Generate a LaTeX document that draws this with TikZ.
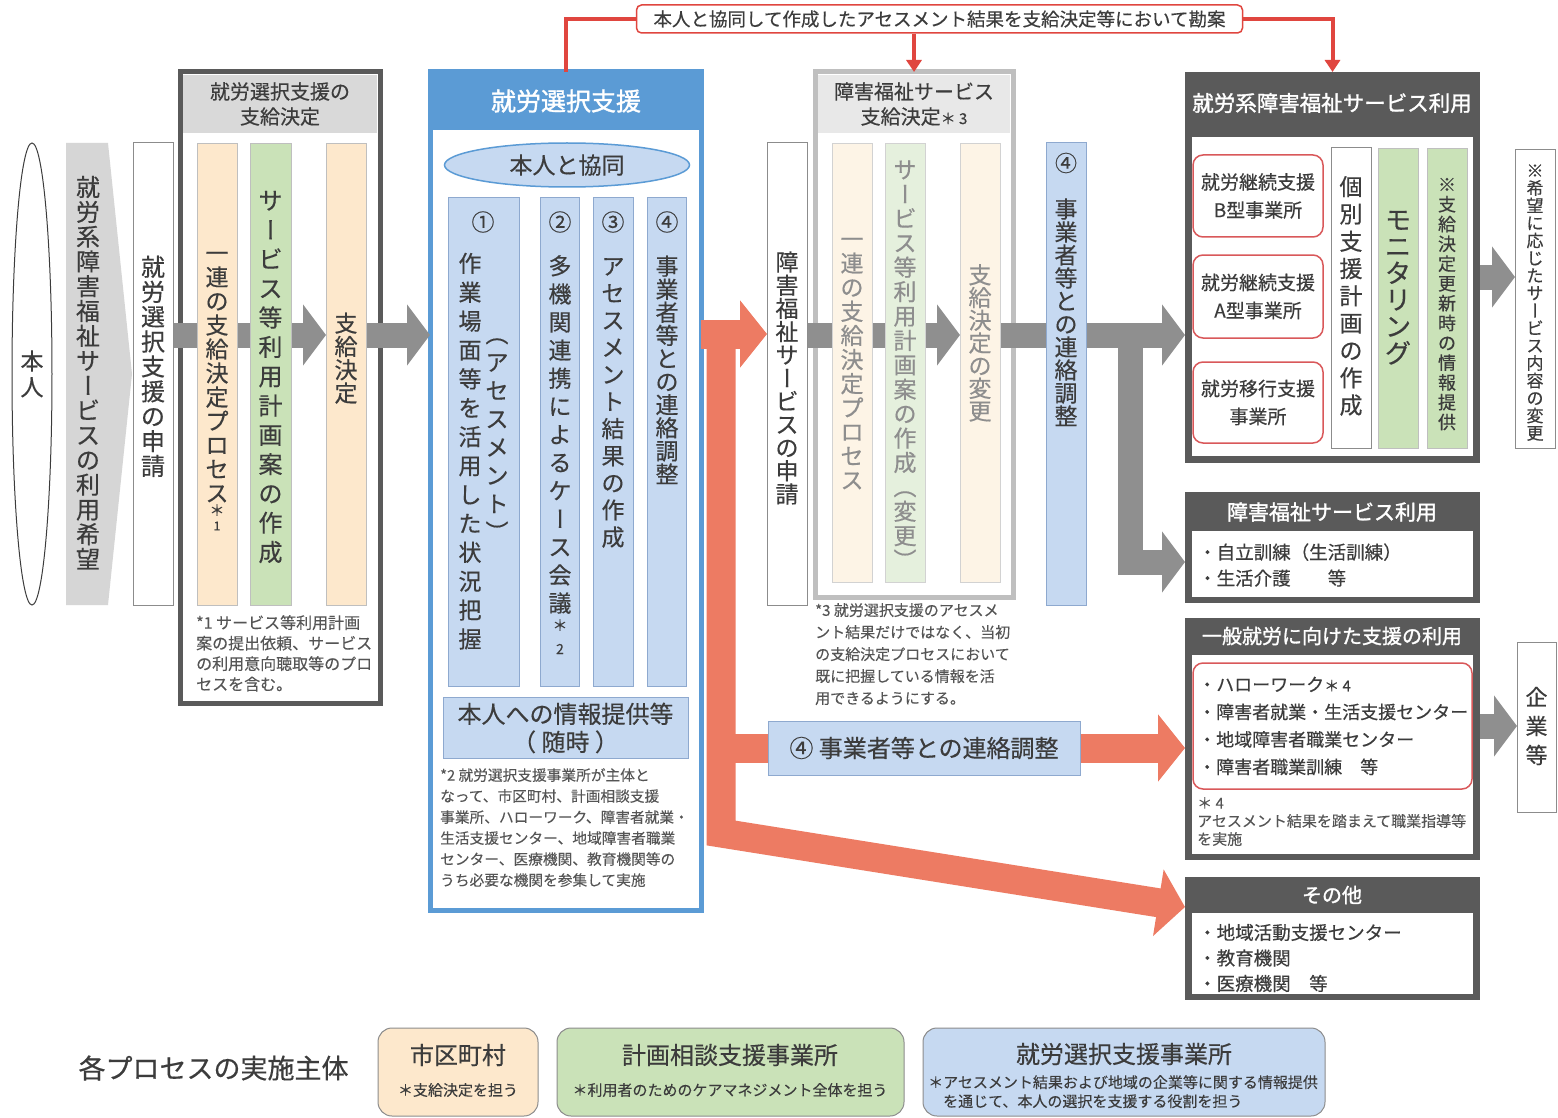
\documentclass[tikz,border=0pt]{standalone}
\usepackage{fontspec}
\setmainfont{Noto Sans CJK JP}[FakeBold=0.4]
\newfontfamily\hb{Noto Sans CJK JP}[FakeBold=1.4]
\newfontfamily\nf{Noto Sans CJK JP}[FakeBold=0.15]
\usepackage{graphicx}
\usetikzlibrary{arrows.meta,shapes.geometric}

\definecolor{dkg}{HTML}{5A5A5A}
\definecolor{hdrg}{HTML}{D9D9D9}
\definecolor{lgb}{HTML}{BFBFBF}
\definecolor{lgh}{HTML}{E8E8E8}
\definecolor{peach}{HTML}{FDE8CC}
\definecolor{grn}{HTML}{CAE2B8}
\definecolor{ppeach}{HTML}{FDF4E6}
\definecolor{pgrn}{HTML}{E5F0DD}
\definecolor{lblue}{HTML}{C6D9F1}
\definecolor{lbb}{HTML}{8EA9CF}
\definecolor{blu}{HTML}{5B9BD5}
\definecolor{salm}{HTML}{ED7B63}
\definecolor{redc}{HTML}{E0463F}
\definecolor{rbox}{HTML}{D9585A}
\definecolor{barg}{HTML}{8F8F8F}
\definecolor{chev}{HTML}{D6D6D6}
\definecolor{txt}{HTML}{3C3C3C}
\definecolor{ltxt}{HTML}{8E8E8E}
\definecolor{ntxt}{HTML}{555555}
\definecolor{bordg}{HTML}{8C8C8C}

\pgfdeclarelayer{back}
\pgfdeclarelayer{mid}
\pgfsetlayers{back,mid,main}

\newcommand\fsz[2]{\fontsize{#1}{#2}\selectfont}

\ExplSyntaxOn
\cs_new:Npn \vchar #1
  {
    \str_case:nnF {#1}
      {
        {ー}{\rotatebox[origin=c]{-90}{\rule[-0.12em]{0pt}{1em}ー}}
        {（}{︵}
        {）}{︶}
      }
      {#1}
  }
\NewDocumentCommand \V { O{1.1em} m }
  {
    \vbox
      {
        \baselineskip=#1\relax
        \lineskiplimit=-\maxdimen
        \lineskip=0pt
        \tl_map_inline:nn {#2} { \hbox to 1em {\hss \vchar{##1} \hss} }
      }
  }
\ExplSyntaxOff

% box: [opts]{name}{x1}{y1}{x2}{y2}{text}
\newcommand\Rbox[7][]{%
  \pgfmathsetmacro\rw{#5-#3}%
  \pgfmathsetmacro\rh{#6-#4}%
  \node[anchor=north west, minimum width=\rw pt, minimum height=\rh pt,
        inner sep=0pt, outer sep=0pt, #1] (#2) at (#3,#4) {#7};}
% vertical text: [opts]{name}{x}{y of last char centre}{font size}{pitch}{text}
\newcommand\VT[7][]{%
  \pgfmathsetmacro\vy{#4+0.38*#5}%
  \node[anchor=base, inner sep=0pt, outer sep=0pt, #1] (#2) at (#3,\vy)
       {\fsz{#5}{#5}\V[#6pt]{#7}};}

\tikzset{
  every node/.style={text=txt},
  wbox/.style={draw=bordg, fill=white, line width=1pt},
  pch/.style={draw=lgb, fill=peach, line width=0.8pt},
  gcol/.style={draw=lgb, fill=grn, line width=0.8pt},
  ppch/.style={draw=lgb!70, fill=ppeach, line width=0.8pt},
  pgcol/.style={draw=lgb!70, fill=pgrn, line width=0.8pt},
  lbcol/.style={draw=lbb, fill=lblue, line width=1pt},
  rbx/.style={draw=rbox, fill=white, line width=1.5pt, rounded corners=10pt},
  gbar/.style={draw=barg, line width=25pt},
  garr/.style={gbar, -{Triangle[length=23pt, width=60pt]}},
  sarr/.style={draw=salm, line width=29pt, line join=miter, -{Triangle[length=27pt, width=66pt]}},
  redl/.style={draw=redc, line width=4pt},
  rarr/.style={redl, -{Triangle[length=12pt, width=15pt]}},
  note/.style={anchor=north west, align=left, inner sep=0pt, text=ntxt},
  hdr/.style={text=white},
  legbox/.style={draw=bordg, line width=1pt, rounded corners=14pt},
}

\begin{document}
\begin{tikzpicture}[x=1pt,y=-1pt]
\useasboundingbox (0,0) rectangle (1558,1118);

% ---------------- back layer: group frames ----------------
\begin{pgfonlayer}{back}
  \fill[white] (0,0) rectangle (1558,1118);
  \Rbox[draw=dkg, line width=5pt, fill=white]{grp1}{180}{72}{380}{703}{}
  \Rbox[fill=hdrg]{hd1}{183}{75}{377}{133}{}
  \Rbox[draw=blu, line width=5pt, fill=white]{grp2}{430}{72}{701}{910}{}
  \Rbox[fill=blu]{hd2}{430}{72}{701}{130}{}
  \Rbox[draw=lgb, line width=5pt, fill=white]{grp3}{815}{72}{1013}{597}{}
  \Rbox[fill=lgh]{hd3}{818}{75}{1010}{133}{}
  \Rbox[fill=dkg]{grp4}{1185}{72}{1480}{463}{}
  \Rbox[fill=white]{in4}{1192}{137}{1473}{456}{}
  \Rbox[fill=dkg]{grp5}{1185}{492}{1480}{603}{}
  \Rbox[fill=white]{in5}{1192}{531}{1473}{597}{}
  \Rbox[fill=dkg]{grp6}{1185}{618}{1480}{860}{}
  \Rbox[fill=white]{in6}{1192}{655}{1473}{854}{}
  \Rbox[fill=dkg]{grp7}{1185}{877}{1480}{1000}{}
  \Rbox[fill=white]{in7}{1192}{913}{1473}{994}{}
\end{pgfonlayer}

% ---------------- left part ----------------
\node[ellipse, draw=txt, line width=1pt, minimum width=40pt, minimum height=462pt, inner sep=0pt] (honnin) at (32,374) {};
\VT{honnint}{32}{387}{23}{26}{本人}
\fill[chev] (66,143) -- (108,143) -- (132,374) -- (108,605) -- (66,605) -- cycle;
\VT{chevt}{88}{559}{24}{24.8}{就労系障害福祉サービスの利用希望}
\Rbox[wbox]{app1}{133}{143}{173}{605}{}
\VT{app1t}{153}{466}{24}{24.9}{就労選択支援の申請}

% group 1
\node[font=\fsz{20}{25}, align=center] (hd1t) at (280,104) {就労選択支援の\\支給決定};
\Rbox[pch]{c11}{197}{143}{237}{605}{}
\VT{c11t}{217}{493}{23}{24}{一連の支給決定プロセス}
\node[inner sep=0pt] (c11s) at (217,510) {\fsz{15}{15}＊};
\node[inner sep=0pt] (c11n) at (217,526) {\fsz{12}{12}1};
\Rbox[gcol]{c12}{250}{143}{291}{605}{}
\VT{c12t}{270.5}{552}{24}{29.3}{サービス等利用計画案の作成}
\Rbox[pch]{c13}{326}{143}{366}{605}{}
\VT{c13t}{346}{393}{23}{23.3}{支給決定}
\node[note, font=\nf\fsz{16}{20.5}] (n1) at (196,615) {*1 サービス等利用計画\\案の提出依頼、サービス\\の利用意向聴取等のプロ\\セスを含む。};

% group 2 (blue)
\node[hdr] (hd2t) at (566,101) {\hb\fsz{25}{25}就労選択支援};
\node[ellipse, draw=blu, fill=lblue, line width=1.5pt, minimum width=245pt, minimum height=44pt, inner sep=0pt] (kyodo) at (567,165) {\fsz{23}{23}本人と協同};
\Rbox[lbcol]{s1}{448}{198}{519}{686}{}
\Rbox[lbcol]{s2}{540}{198}{579}{686}{}
\Rbox[lbcol]{s3}{593}{198}{633}{686}{}
\Rbox[lbcol]{s4}{647}{198}{686}{686}{}
\node (s1n) at (483,222) {\fsz{23}{23}①};
\node (s2n) at (560,222) {\fsz{23}{23}②};
\node (s3n) at (613,222) {\fsz{23}{23}③};
\node (s4n) at (667,222) {\fsz{23}{23}④};
\VT{s1a}{470}{639}{23}{28.9}{作業場面等を活用した状況把握}
\VT{s1b}{497}{532}{23}{28.3}{（アセスメント）}
\VT{s2t}{560}{603}{23}{28.1}{多機関連携によるケース会議}
\node (s2s) at (560,625) {\fsz{15}{15}＊};
\node (s2k) at (560,649) {\fsz{14}{14}2};
\VT{s3t}{613}{537}{23}{27.1}{アセスメント結果の作成}
\VT{s4t}{667}{474}{23}{23.1}{事業者等との連絡調整}
\Rbox[lbcol]{info}{443}{697}{688}{758}{}
\node[font=\fsz{24}{28}, align=center] (infot) at (565.5,728) {本人への情報提供等\\（ 随時 ）};
\node[note, font=\nf\fsz{14.7}{21}] (n2) at (440,768) {*2 就労選択支援事業所が主体と\\なって、市区町村、計画相談支援\\事業所、ハローワーク、障害者就業・\\生活支援センター、地域障害者職業\\センター、医療機関、教育機関等の\\うち必要な機関を参集して実施};

% middle
\Rbox[wbox]{app2}{767}{143}{807}{605}{}
\VT{app2t}{787}{494}{23}{23.2}{障害福祉サービスの申請}
\node[font=\fsz{20}{25}, align=center] (hd3t) at (914,104) {障害福祉サービス\\支給決定{\fsz{15}{15}＊ 3}};
\Rbox[ppch]{c31}{832}{143}{872}{582}{}
\Rbox[pgcol]{c32}{885}{143}{925}{582}{}
\Rbox[ppch]{c33}{960}{143}{1000}{582}{}
\VT[text=ltxt]{c31t}{852}{480}{23}{24.1}{一連の支給決定プロセス}
\VT[text=ltxt]{c32t}{905}{560}{23}{24.4}{サービス等利用計画案の作成（変更）}
\VT[text=ltxt]{c33t}{980}{411}{23}{22.7}{支給決定の変更}
\node[note, font=\nf\fsz{15}{22}] (n3) at (815,603) {*3 就労選択支援のアセスメ\\ント結果だけではなく、当初\\の支給決定プロセスにおいて\\既に把握している情報を活\\用できるようにする。};
\Rbox[lbcol]{c4}{1046}{143}{1086}{605}{}
\node (c4n) at (1066,163) {\fsz{22}{22}④};
\VT{c4t}{1066}{416}{23}{23}{事業者等との連絡調整}

% right: group 4
\node[hdr] (hd4t) at (1332,103) {\hb\fsz{21.5}{21.5}就労系障害福祉サービス利用};
\Rbox[rbx]{r1}{1193}{155}{1323}{237}{}
\node[font=\fsz{19}{28}, align=center] (r1t) at (r1) {就労継続支援\\B型事業所};
\Rbox[rbx]{r2}{1193}{255}{1323}{338}{}
\node[font=\fsz{19}{28}, align=center] (r2t) at (r2) {就労継続支援\\A型事業所};
\Rbox[rbx]{r3}{1193}{362}{1323}{443}{}
\node[font=\fsz{19}{28}, align=center] (r3t) at (r3) {就労移行支援\\事業所};
\Rbox[wbox]{kob}{1331}{148}{1371}{448}{}
\VT{kobt}{1351}{405}{23}{27.3}{個別支援計画の作成}
\Rbox[gcol]{mon}{1378}{148}{1418}{448}{}
\VT{mont}{1398}{353}{26}{26.7}{モニタリング}
\Rbox[gcol]{inf2}{1427}{148}{1467}{448}{}
\VT{inf2t}{1447}{422}{18}{19.8}{※支給決定更新時の情報提供}
\Rbox[wbox]{wish}{1515}{150}{1555}{448}{}
\VT{wisht}{1535}{433}{17}{17.5}{※希望に応じたサービス内容の変更}

% group 5
\node[hdr] (hd5t) at (1332,512) {\hb\fsz{21}{21}障害福祉サービス利用};
\node[anchor=west, font=\fsz{18.5}{26}, align=left, inner sep=0pt] (l5) at (1198,565) {・自立訓練（生活訓練）\\・生活介護　　等};

% group 6
\node[hdr] (hd6t) at (1332,636) {\hb\fsz{20}{20}一般就労に向けた支援の利用};
\Rbox[rbx]{rb6}{1193}{663}{1472}{789}{}
\node[anchor=west, font=\fsz{18}{27.5}, align=left, inner sep=0pt] (l6) at (1198,726) {・ハローワーク{\fsz{15}{15}＊ 4}\\・障害者就業・生活支援センター\\・地域障害者職業センター\\・障害者職業訓練　等};
\node[note, font=\nf\fsz{15}{18}] (n4) at (1197,797) {＊ 4\\アセスメント結果を踏まえて職業指導等\\を実施};
\Rbox[wbox]{kig}{1517}{642}{1556}{812}{}
\VT{kigt}{1536.5}{755}{22}{29}{企業等}

% group 7
\node[hdr] (hd7t) at (1332,895) {\hb\fsz{20}{20}その他};
\node[anchor=west, font=\fsz{18.5}{25.5}, align=left, inner sep=0pt] (l7) at (1198,958) {・地域活動支援センター\\・教育機関\\・医療機関　等};

% top banner
\node[draw=redc, line width=1.5pt, fill=white, rounded corners=5pt, minimum width=606pt, minimum height=28pt, inner sep=0pt] (ban) at (939.5,19) {\fsz{18.5}{18.5}本人と協同して作成したアセスメント結果を支給決定等において勘案};
\draw[redl] (ban.west) -| (grp2.north);
\draw[rarr] (ban.south -| grp3.north) -- (grp3.north);
\draw[rarr] (ban.east) -| (grp4.north);

% label on the salmon arrow
\Rbox[lbcol]{lab4}{768}{721}{1080}{775}{\fsz{24}{24}④ 事業者等との連絡調整}

% legend
\node[anchor=west] (legt) at (75,1068) {\fsz{27}{27}各プロセスの実施主体};
\Rbox[legbox, fill=peach]{lg1}{378}{1028}{538}{1116}{}
\node (lg1a) at (458,1055) {\fsz{24}{24}市区町村};
\node (lg1b) at (458,1090) {\nf\fsz{15}{15}＊支給決定を担う};
\Rbox[legbox, fill=grn]{lg2}{557}{1028}{904}{1116}{}
\node (lg2a) at (730,1055) {\fsz{24}{24}計画相談支援事業所};
\node (lg2b) at (730,1090) {\nf\fsz{15}{15}＊利用者のためのケアマネジメント全体を担う};
\Rbox[legbox, fill=lblue]{lg3}{923}{1028}{1325}{1116}{}
\node (lg3a) at (1124,1054) {\fsz{24}{24}就労選択支援事業所};
\node[anchor=north west, align=left, inner sep=0pt, font=\nf\fsz{15}{19}] (lg3b) at (928,1075) {＊アセスメント結果および地域の企業等に関する情報提供\\\hspace*{1em}を通じて、本人の選択を支援する役割を担う};

% ---------------- mid layer: arrows ----------------
\begin{pgfonlayer}{mid}
  \coordinate (gy) at (0,335);
  \draw[gbar] (app1.east |- gy) -- (c12.east |- gy);
  \draw[garr] (c12.east |- gy) -- (c13.west |- gy);
  \draw[garr] (c13.east |- gy) -- (grp2.west |- gy);
  \draw[gbar] (app2.east |- gy) -- (c32.east |- gy);
  \draw[garr] (c32.east |- gy) -- (c33.west |- gy);
  \draw[gbar] (c33.east |- gy) -- (c4.west |- gy);
  \draw[garr] (c4.east |- gy) -- (grp4.west |- gy);
  \coordinate (br) at (1130,335);
  \coordinate (bry) at (0,562);
  \draw[garr, line join=miter] (br) -- (br |- bry) -- (grp5.west |- bry);
  \coordinate (wy) at (0,277);
  \draw[garr] (grp4.east |- wy) -- (wish.west |- wy);
  \coordinate (ky) at (0,726);
  \draw[garr] (grp6.east |- ky) -- (kig.west |- ky);
  % salmon arrows
  \coordinate (sy) at (0,334);
  \draw[sarr] (grp2.east |- sy) -- (app2.west |- sy);
  \coordinate (sv) at (721,320);
  \coordinate (sc) at (721,833);
  \coordinate (sy2) at (0,748);
  \coordinate (sy3) at (0,907);
  \draw[sarr] (sv) -- (sc) -- (grp7.west |- sy3);
  \draw[sarr] (sv |- sy2) -- (grp6.west |- sy2);
\end{pgfonlayer}
\end{tikzpicture}
\end{document}
